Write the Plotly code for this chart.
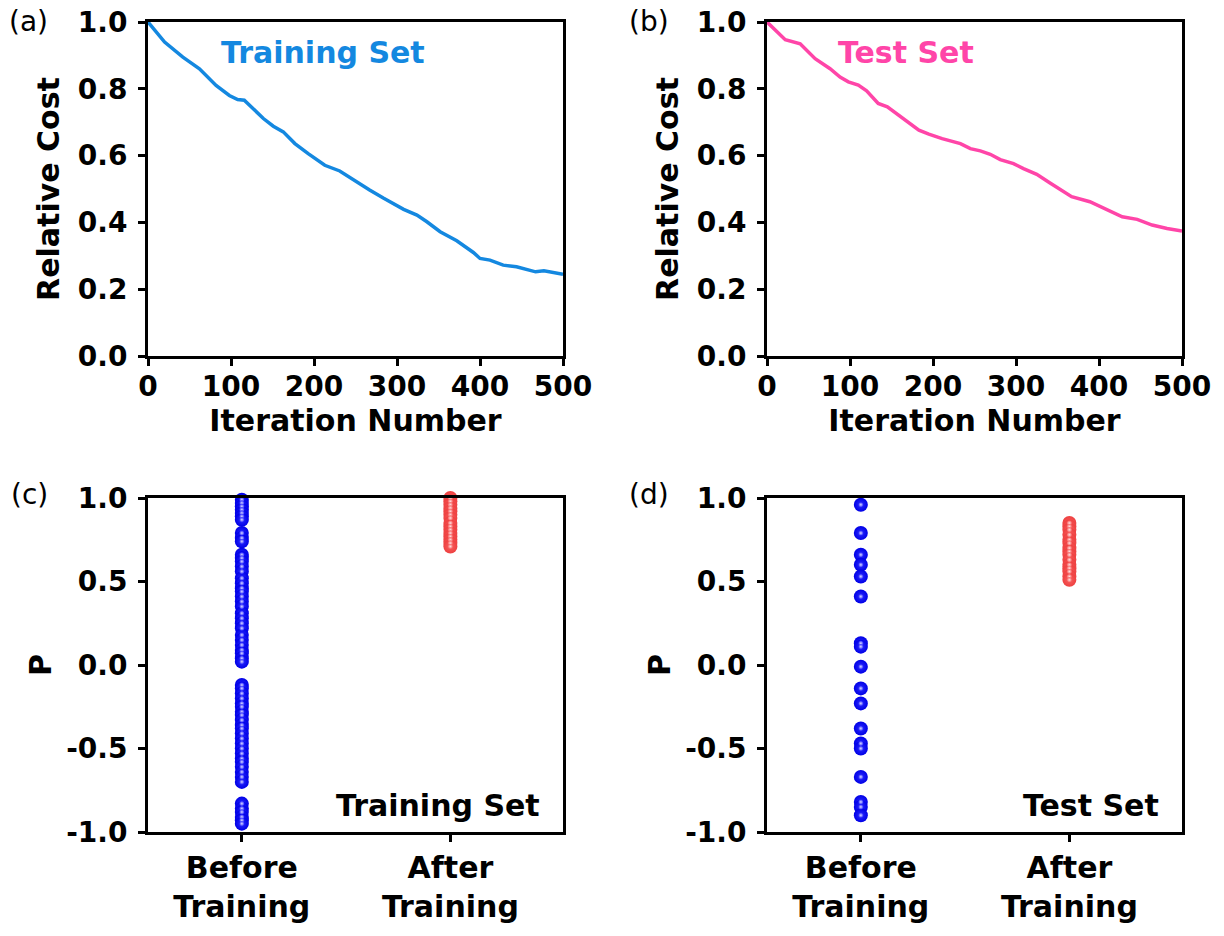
import plotly.graph_objects as go

# ---------------- data ----------------
train_iter = [0, 20, 42, 62, 82, 98, 108, 116, 139, 151, 163, 177, 193, 213, 231, 251, 267, 284,
              308, 324, 336, 352, 372, 392, 400, 412, 428, 444, 456, 467, 477, 500]
train_cost = [1.0, 0.94, 0.895, 0.86, 0.81, 0.78, 0.768, 0.766, 0.711, 0.688, 0.671, 0.636, 0.606,
              0.571, 0.554, 0.521, 0.497, 0.472, 0.439, 0.422, 0.402, 0.372, 0.345, 0.31, 0.292,
              0.287, 0.272, 0.267, 0.259, 0.252, 0.255, 0.245]

test_iter = [0, 22, 40, 58, 76, 88, 98, 110, 120, 134, 145, 157, 169, 183, 195, 211, 233, 245, 257,
             269, 281, 297, 309, 325, 341, 355, 367, 389, 410, 428, 446, 464, 482, 500]
test_cost = [1.0, 0.947, 0.935, 0.89, 0.86, 0.835, 0.821, 0.811, 0.794, 0.756, 0.746, 0.724, 0.701,
             0.676, 0.664, 0.651, 0.636, 0.621, 0.614, 0.604, 0.588, 0.576, 0.561, 0.544, 0.518,
             0.497, 0.477, 0.462, 0.437, 0.417, 0.409, 0.392, 0.382, 0.374]

categories = ["Before<br>Training", "After<br>Training"]

train_before = [0.99, 0.97, 0.95, 0.93, 0.91, 0.89, 0.87,
                0.79, 0.76, 0.74,
                0.66, 0.64, 0.62, 0.59, 0.56, 0.52, 0.49, 0.46, 0.44, 0.41, 0.38, 0.35, 0.31,
                0.28, 0.25, 0.22, 0.18, 0.15, 0.12, 0.09, 0.07, 0.04, 0.02,
                -0.12, -0.14, -0.17, -0.20, -0.23, -0.25, -0.28, -0.30, -0.33, -0.36, -0.38,
                -0.41, -0.44, -0.47, -0.50, -0.53, -0.56, -0.58, -0.61, -0.64, -0.67, -0.70,
                -0.83, -0.86, -0.88, -0.91, -0.93, -0.95]
train_after = [1.0, 0.98, 0.96, 0.94, 0.92, 0.90, 0.88, 0.85, 0.83, 0.81, 0.79, 0.77, 0.75,
               0.73, 0.71]

test_before = [0.96, 0.79, 0.66, 0.60, 0.53, 0.41, 0.13, 0.11, -0.01, -0.14, -0.23, -0.38,
               -0.47, -0.50, -0.67, -0.82, -0.85, -0.90]
test_after = [0.85, 0.83, 0.81, 0.78, 0.75, 0.73, 0.70, 0.68, 0.66, 0.63, 0.60, 0.58, 0.56,
              0.53, 0.51]

p_ticks = [-1.0, -0.5, 0.0, 0.5, 1.0]
p_ticktext = ["-1.0", "-0.5", "0.0", "0.5", "1.0"]

# ---------------- style ----------------
W, H = 1224, 936
BOLD = "DejaVu Sans"
BLUE_LINE = "#1488e0"
PINK_LINE = "#ff45a8"
DOT_BLUE = "#0000e6"
DOT_BLUE_C = "#2a2aff"
DOT_RED = "#ee4040"
DOT_RED_C = "#f86060"


def px(x):
    return x / W


def py(y):
    return 1 - y / H


def xd(a, b):
    return [px(a), px(b)]


def yd(top, bottom):
    return [py(bottom), py(top)]


fig = go.Figure()

# (a) training curve
fig.add_trace(go.Scatter(x=train_iter, y=train_cost, mode="lines",
                         line=dict(color=BLUE_LINE, width=3.5), xaxis="x", yaxis="y",
                         showlegend=False))
# (b) test curve
fig.add_trace(go.Scatter(x=test_iter, y=test_cost, mode="lines",
                         line=dict(color=PINK_LINE, width=3.5), xaxis="x2", yaxis="y2",
                         showlegend=False))


def dots(vals, cat_idx, color, center, shine_color, ax, ay):
    base = go.Scatter(x=[cat_idx] * len(vals), y=vals, mode="markers", xaxis=ax, yaxis=ay,
                      cliponaxis=False, showlegend=False,
                      marker=dict(size=14, color=color, line=dict(width=0),
                                  gradient=dict(type="radial", color=center)))
    shine = go.Scatter(x=[cat_idx] * len(vals), y=vals, mode="markers", xaxis=ax, yaxis=ay,
                       cliponaxis=False, showlegend=False, hoverinfo="skip",
                       marker=dict(size=5, color=center, line=dict(width=0),
                                   gradient=dict(type="radial", color=shine_color)))
    return [base, shine]


traces = (dots(train_before, 1, DOT_BLUE, DOT_BLUE_C, "#dcdcff", "x3", "y3")
          + dots(train_after, 2, DOT_RED, DOT_RED_C, "#ffe0e0", "x3", "y3")
          + dots(test_before, 1, DOT_BLUE, DOT_BLUE_C, "#dcdcff", "x4", "y4")
          + dots(test_after, 2, DOT_RED, DOT_RED_C, "#ffe0e0", "x4", "y4"))
for tr in traces:
    fig.add_trace(tr)

tickfont = dict(family=BOLD, size=28, color="black", weight="bold")
titlefont = dict(family=BOLD, size=30, color="black", weight="bold")

axis_common = dict(showline=True, linecolor="black", linewidth=3, mirror=True,
                   ticks="outside", ticklen=7, tickwidth=3, tickcolor="black",
                   showgrid=False, zeroline=False, tickfont=tickfont, automargin=False,
                   ticklabeloverflow="allow")

cost_x = dict(axis_common, range=[0, 500], tickvals=[0, 100, 200, 300, 400, 500],
              ticklabelstandoff=-4,
              title=dict(text="Iteration Number", font=titlefont, standoff=4))
cost_y = dict(axis_common, range=[0, 1.0], tickvals=[0, 0.2, 0.4, 0.6, 0.8, 1.0],
              tickformat=".1f", ticklabelstandoff=5,
              title=dict(text="Relative Cost", font=titlefont, standoff=10))
cat_x = dict(axis_common, range=[0.55, 2.54], tickvals=[1, 2], ticktext=categories,
             tickfont=titlefont)
p_y = dict(axis_common, range=[-1.0, 1.0], tickvals=p_ticks, ticktext=p_ticktext,
           ticklabelstandoff=5,
           title=dict(text="P", font=titlefont, standoff=6))

fig.update_layout(
    width=W, height=H, margin=dict(l=0, r=0, t=0, b=0),
    plot_bgcolor="white", paper_bgcolor="white",
    xaxis=dict(cost_x, domain=xd(148, 563), anchor="y"),
    yaxis=dict(cost_y, domain=yd(22, 356), anchor="x"),
    xaxis2=dict(cost_x, domain=xd(767, 1182), anchor="y2"),
    yaxis2=dict(cost_y, domain=yd(22, 356), anchor="x2"),
    xaxis3=dict(cat_x, domain=xd(148, 563), anchor="y3"),
    yaxis3=dict(p_y, domain=yd(498, 832), anchor="x3"),
    xaxis4=dict(cat_x, domain=xd(767, 1182), anchor="y4"),
    yaxis4=dict(p_y, domain=yd(498, 832), anchor="x4"),
)

panel_font = dict(family="DejaVu Sans", size=28, color="black")
panel_labels = [("(a)", 7, 21), ("(b)", 627, 21), ("(c)", 9, 494), ("(d)", 627, 494)]
for txt, x, y in panel_labels:
    fig.add_annotation(xref="paper", yref="paper", x=px(x), y=py(y), xanchor="left",
                       yanchor="middle", showarrow=False, text=txt, font=panel_font)

fig.add_annotation(xref="paper", yref="paper", x=px(219), y=py(52), xanchor="left",
                   yanchor="middle", showarrow=False, text="Training Set",
                   font=dict(family=BOLD, size=30, color=BLUE_LINE, weight="bold"))
fig.add_annotation(xref="paper", yref="paper", x=px(836), y=py(52), xanchor="left",
                   yanchor="middle", showarrow=False, text="Test Set",
                   font=dict(family=BOLD, size=30, color=PINK_LINE, weight="bold"))
fig.add_annotation(xref="paper", yref="paper", x=px(542), y=py(805), xanchor="right",
                   yanchor="middle", showarrow=False, text="Training Set",
                   font=dict(family=BOLD, size=30, color="black", weight="bold"))
fig.add_annotation(xref="paper", yref="paper", x=px(1161), y=py(805), xanchor="right",
                   yanchor="middle", showarrow=False, text="Test Set",
                   font=dict(family=BOLD, size=30, color="black", weight="bold"))

fig.write_html("out.html", config={"displayModeBar": False},
               post_script="document.body.style.margin='0';")
